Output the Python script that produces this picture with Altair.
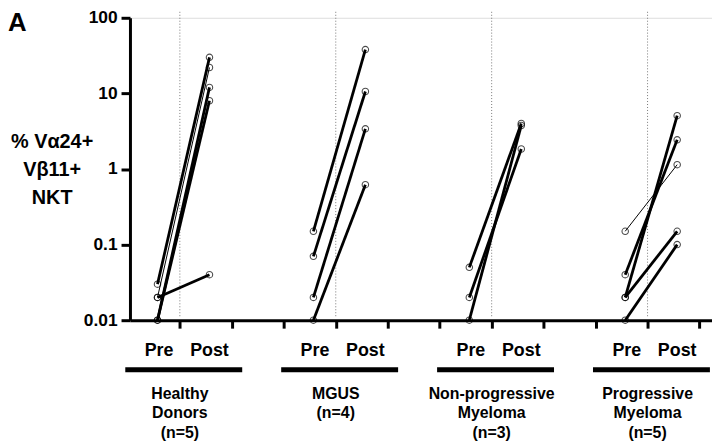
import altair as alt
import pandas as pd

# ---- data ----
group_labels = ["Healthy\nDonors\n(n=5)", "MGUS\n(n=4)",
                "Non-progressive\nMyeloma\n(n=3)", "Progressive\nMyeloma\n(n=5)"]

hd_pre = [0.03, 0.02, 0.01, 0.01, 0.02]
hd_post = [30, 22, 12, 8, 0.04]
hd_weight = ["thick", "thin", "thick", "thick", "thick"]

mgus_pre = [0.15, 0.07, 0.02, 0.01]
mgus_post = [38, 10.6, 3.4, 0.62]
mgus_weight = ["thick", "thick", "thick", "thick"]

np_pre = [0.05, 0.02, 0.01]
np_post = [4.0, 1.84, 3.76]
np_weight = ["thick", "thick", "thick"]

pm_pre = [0.15, 0.04, 0.02, 0.02, 0.01]
pm_post = [1.14, 2.43, 5.07, 0.15, 0.1]
pm_weight = ["thin", "thick", "thick", "thick", "thick"]

time_labels = ["Pre", "Post"]
y_ticks = [0.01, 0.1, 1, 10, 100]
x_ticks = [1, 2, 3, 4, 5, 6, 7, 8, 9, 10, 11]

# ---- build tables ----
series = [(hd_pre, hd_post, hd_weight), (mgus_pre, mgus_post, mgus_weight),
          (np_pre, np_post, np_weight), (pm_pre, pm_post, pm_weight)]
rows = []
for g, (pre, post, w) in enumerate(series):
    for i in range(len(pre)):
        sid = f"g{g}_s{i}"
        rows.append({"sid": sid, "g": g, "t": 0, "value": pre[i], "weight": w[i]})
        rows.append({"sid": sid, "g": g, "t": 1, "value": post[i], "weight": w[i]})
df = pd.DataFrame(rows)

groups_df = pd.DataFrame({"g": list(range(4)), "label": group_labels})
tl_df = pd.DataFrame([{"g": g, "t": t, "label": time_labels[t]} for g in range(4) for t in range(2)])

FONT = "Liberation Sans"

xscale = alt.Scale(domain=[0.04, 11.24], nice=False, zero=False)
yscale = alt.Scale(type="log", domain=[0.01, 100], nice=False)

base = alt.Chart(df).transform_calculate(xpos="3*datum.g + 0.57 + datum.t")

xaxis = alt.Axis(values=x_ticks, labels=False, title=None, grid=False,
                 domainColor="black", domainWidth=3, tickColor="black",
                 tickWidth=3, tickSize=8)
yaxis = alt.Axis(values=y_ticks, labelExpr="'' + datum.value", grid=False,
                 title=["% V\u03b124+", "V\u03b211+", "NKT"], titleAngle=0,
                 titleAlign="center", titleBaseline="alphabetic",
                 titleX=-79, titleY=131, titleLineHeight=28,
                 titleFont=FONT, titleFontSize=20, titleFontWeight="bold", titleColor="black",
                 labelFont=FONT, labelFontSize=17.5, labelFontWeight="bold", labelColor="black",
                 labelPadding=4, domainColor="black", domainWidth=3,
                 tickColor="black", tickWidth=3, tickSize=9)

dotted = alt.Chart(groups_df).transform_calculate(xc="3*datum.g + 1").mark_rule(
    color="#777777", strokeWidth=1, strokeDash=[1, 2]
).encode(
    x=alt.X("xc:Q", scale=xscale, axis=xaxis),
    y=alt.datum(120, scale=yscale, axis=yaxis),
    y2=alt.datum(0.0113),
)

lines = base.mark_line(color="black").encode(
    x=alt.X("xpos:Q", scale=xscale),
    y=alt.Y("value:Q", scale=yscale),
    detail="sid:N",
    strokeWidth=alt.StrokeWidth("weight:N", scale=alt.Scale(domain=["thick", "thin"], range=[2.8, 1.0]), legend=None),
)

points = base.mark_point(shape="circle", filled=False, color="black", size=42, strokeWidth=1.1).encode(
    x=alt.X("xpos:Q", scale=xscale),
    y=alt.Y("value:Q", scale=yscale),
)

tl_text = alt.Chart(tl_df).transform_calculate(xt="3*datum.g + 0.6 + 0.97*datum.t").mark_text(
    font=FONT, fontSize=18, fontWeight="bold", color="black", align="center", baseline="alphabetic"
).encode(
    x=alt.X("xt:Q", scale=xscale),
    y=alt.value(341),
    text="label:N",
)

bars = alt.Chart(groups_df).transform_calculate(
    xa="3*datum.g - 0.05", xb="3*datum.g + 2.2"
).mark_rule(color="black", strokeWidth=5).encode(
    x=alt.X("xa:Q", scale=xscale),
    x2="xb:Q",
    y=alt.value(355),
)

grp_text = alt.Chart(groups_df).transform_calculate(xc="3*datum.g + 1").mark_text(
    font=FONT, fontSize=16, fontWeight="bold", color="black", align="center",
    baseline="alphabetic", lineBreak="\n", lineHeight=20
).encode(
    x=alt.X("xc:Q", scale=xscale),
    y=alt.value(384),
    text="label:N",
)

panel = alt.Chart(pd.DataFrame({"label": ["A"]})).mark_text(
    font=FONT, fontSize=26, fontWeight="bold", color="black", align="left", baseline="top"
).encode(
    x=alt.value(-123),
    y=alt.value(-8),
    text="label:N",
)

chart = alt.layer(dotted, lines, points, tl_text, bars, grp_text, panel).properties(
    width=587, height=305,
    autosize=alt.AutoSizeParams(type="none"),
    padding={"left": 123, "top": 8, "right": 0, "bottom": 126},
).configure_view(stroke=None).configure(background="white")

chart.save("out.html", embed_options={"renderer": "svg", "actions": False})
